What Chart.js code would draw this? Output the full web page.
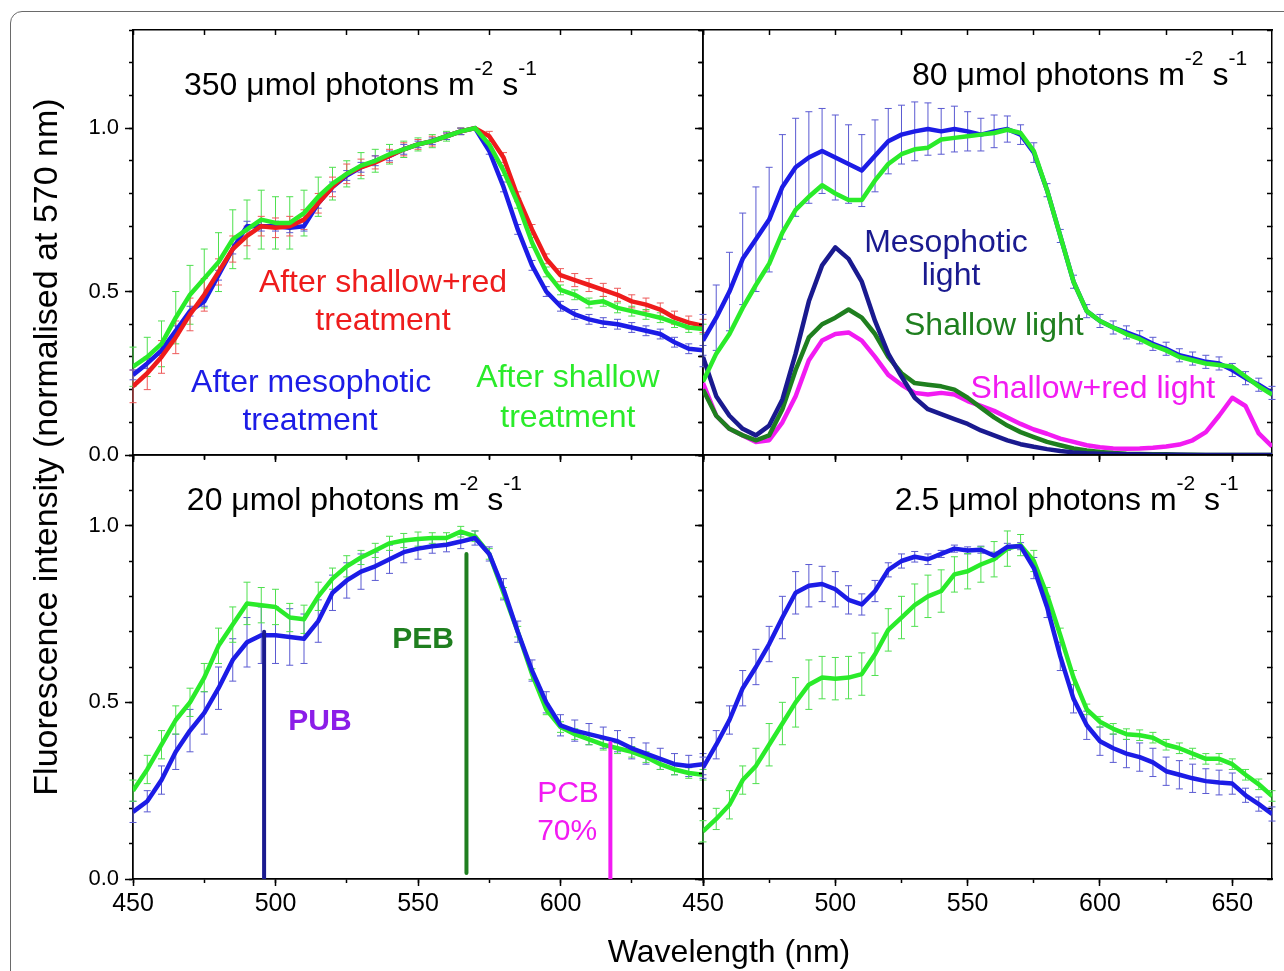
<!DOCTYPE html>
<html>
<head>
<meta charset="utf-8">
<script src="https://cdn.jsdelivr.net/npm/chart.js@4.4.0/dist/chart.umd.min.js"></script>
<style>
  body { margin: 0; background: #fff; }
  #wrap { position: relative; width: 1284px; height: 971px; overflow: hidden; background: #fff;
          font-family: "Liberation Sans", Arial, sans-serif; }
  #wrap canvas { position: absolute; left: 0; top: 0; }
  #outer { position: absolute; left: 10px; top: 11px; width: 1400px; height: 1100px;
           border: 1.5px solid #6a6a6a; border-radius: 12px; }
  #xtitle { position: absolute; left: 529px; top: 935px; width: 400px; text-align: center;
            font-size: 32px; line-height: 32px; color: #000; }
  #ytitle { position: absolute; left: -355px; top: 429px; width: 800px; height: 36px; text-align: center;
            font-size: 34px; line-height: 36px; color: #000; transform: rotate(-90deg); }
</style>
</head>
<body>
<div id="wrap">
  <div id="outer"></div>
  <canvas id="cTL" width="1284" height="971"></canvas>
  <canvas id="cTR" width="1284" height="971"></canvas>
  <canvas id="cBL" width="1284" height="971"></canvas>
  <canvas id="cBR" width="1284" height="971"></canvas>
  <div id="xtitle">Wavelength (nm)</div>
  <div id="ytitle">Fluorescence intensity (normalised at 570 nm)</div>
</div>
<script>
// wavelengths (nm)
var wlLeft = [450,455,460,465,470,475,480,485,490,495,500,505,510,515,520,525,530,535,540,545,
              550,555,560,565,570,575,580,585,590,595,600,605,610,615,620,625,630,635,640,645,650];
var wlRight = [450,455,460,465,470,475,480,485,490,495,500,505,510,515,520,525,530,535,540,545,
               550,555,560,565,570,575,580,585,590,595,600,605,610,615,620,625,630,635,640,645,650,655,660,665];

// 350 umol panel
var tlShallow = [0.27,0.30,0.34,0.42,0.49,0.54,0.59,0.66,0.69,0.72, 0.71,0.71,0.74,0.79,0.83,0.86,0.885,0.90,0.92,0.935,
                 0.95,0.96,0.975,0.99,1.00,0.95,0.87,0.77,0.65,0.56, 0.505,0.49,0.465,0.47,0.45,0.44,0.43,0.42,0.405,0.39, 0.385];
var tlShallowErr = [0.06,0.06,0.07,0.08,0.09,0.09,0.09,0.09,0.09,0.09, 0.08,0.08,0.07,0.06,0.05,0.04,0.04,0.035,0.03,0.025,
                    0.02,0.02,0.015,0.01,0,0.01,0.015,0.015,0.015,0.015, 0.015,0.015,0.015,0.015,0.015,0.015,0.015,0.015,0.015,0.015, 0.015];
var tlRed = [0.21,0.25,0.30,0.36,0.43,0.49,0.56,0.63,0.67,0.70, 0.695,0.70,0.72,0.77,0.82,0.86,0.88,0.895,0.915,0.935,
             0.95,0.96,0.975,0.99,1.00,0.975,0.91,0.79,0.69,0.60, 0.55,0.535,0.52,0.505,0.49,0.47,0.46,0.445,0.42,0.405, 0.395];
var tlRedErr = [0.05,0.05,0.05,0.05,0.05,0.05,0.04,0.04,0.03,0.03, 0.03,0.03,0.03,0.03,0.03,0.03,0.025,0.02,0.02,0.02,
                0.015,0.015,0.01,0.01,0,0.015,0.015,0.015,0.015,0.015, 0.02,0.02,0.02,0.02,0.02,0.02,0.02,0.02,0.02,0.02, 0.02];
var tlMeso = [0.245,0.28,0.32,0.38,0.44,0.47,0.55,0.63,0.70,0.70, 0.70,0.695,0.70,0.77,0.82,0.855,0.88,0.90,0.915,0.935,
              0.95,0.96,0.975,0.99,1.00,0.93,0.82,0.69,0.58,0.50, 0.455,0.43,0.415,0.405,0.40,0.39,0.38,0.37,0.345,0.325, 0.32];
var tlMesoErr = [0.015,0.015,0.015,0.015,0.015,0.015,0.015,0.015,0.015,0.015, 0.015,0.015,0.015,0.015,0.015,0.015,0.015,0.015,0.015,0.015,
                 0.01,0.01,0.01,0.01,0,0.01,0.015,0.015,0.015,0.015, 0.015,0.015,0.015,0.015,0.015,0.015,0.015,0.015,0.015,0.015, 0.015];

// 80 umol panel
var trMeso = [0.35,0.42,0.50,0.60,0.66,0.72,0.82,0.88,0.91,0.93, 0.91,0.89,0.87,0.915,0.96,0.98,0.99,0.997,0.99,0.997,
              0.99,0.98,0.99,0.997,0.98,0.925,0.81,0.67,0.53,0.44, 0.41,0.39,0.375,0.36,0.34,0.325,0.305,0.295,0.285,0.28,
              0.26,0.235,0.215,0.19];
var trMesoErr = [0.08,0.10,0.12,0.14,0.16,0.16,0.16,0.15,0.14,0.13, 0.13,0.12,0.11,0.11,0.10,0.09,0.09,0.08,0.07,0.07,
                 0.06,0.05,0.05,0.04,0.03,0.03,0.02,0.02,0.02,0.02, 0.02,0.02,0.02,0.02,0.02,0.02,0.02,0.02,0.02,0.02,
                 0.02,0.02,0.02,0.02];
var trShallow = [0.225,0.31,0.37,0.45,0.52,0.585,0.68,0.75,0.79,0.825, 0.80,0.78,0.78,0.84,0.89,0.92,0.935,0.94,0.965,0.97,
                 0.975,0.98,0.985,0.995,0.985,0.93,0.81,0.67,0.53,0.44, 0.41,0.39,0.37,0.355,0.335,0.32,0.30,0.29,0.28,0.275,
                 0.27,0.24,0.21,0.185];
var lightMeso = [0.30,0.18,0.12,0.08,0.06,0.09,0.17,0.31,0.47,0.58, 0.635,0.60,0.53,0.41,0.31,0.24,0.175,0.14,0.125,0.11,
                 0.095,0.075,0.06,0.045,0.033,0.025,0.018,0.012,0.008,0.005, 0.004,0.003,0.002,0.002,0.001,0.001,0.001,0,0,0,
                 0,0,0,0];
var lightShallow = [0.20,0.12,0.08,0.06,0.045,0.06,0.14,0.26,0.36,0.40, 0.42,0.445,0.42,0.37,0.30,0.25,0.22,0.215,0.21,0.20,
                    0.175,0.145,0.115,0.09,0.07,0.055,0.04,0.03,0.02,0.014, 0.009,0.006,0.004,0.003,0.002,0.002,0.001,0.001,0,0,
                    0,0,0,0];
var lightRed = [0.22,0.12,0.08,0.06,0.04,0.045,0.10,0.18,0.29,0.35, 0.37,0.375,0.35,0.30,0.245,0.215,0.19,0.185,0.19,0.185,
                0.165,0.15,0.135,0.115,0.095,0.078,0.065,0.05,0.04,0.03, 0.024,0.02,0.019,0.02,0.022,0.026,0.032,0.045,0.07,0.12,
                0.175,0.15,0.066,0.026];

// 20 umol panel
var blShallow = [0.25,0.31,0.38,0.45,0.50,0.57,0.66,0.72,0.78,0.775, 0.77,0.74,0.735,0.80,0.85,0.885,0.91,0.93,0.95,0.958,
                 0.962,0.965,0.965,0.983,0.97,0.92,0.81,0.70,0.58,0.48, 0.43,0.41,0.395,0.38,0.37,0.36,0.345,0.325,0.31,0.30, 0.295];
var blShallowErr = [0.03,0.04,0.04,0.04,0.04,0.04,0.05,0.05,0.06,0.05, 0.05,0.04,0.04,0.04,0.03,0.03,0.02,0.02,0.02,0.02,
                    0.02,0.015,0.015,0.015,0.015,0.015,0.015,0.015,0.015,0.015, 0.015,0.015,0.015,0.015,0.015,0.015,0.015,0.015,0.015,0.015, 0.015];
var blMeso = [0.19,0.22,0.28,0.36,0.42,0.47,0.54,0.62,0.67,0.69, 0.69,0.685,0.68,0.73,0.81,0.845,0.87,0.885,0.905,0.925,
              0.935,0.942,0.946,0.955,0.965,0.92,0.82,0.70,0.59,0.50, 0.435,0.42,0.41,0.40,0.39,0.37,0.355,0.34,0.325,0.32, 0.325];
var blMesoErr = [0.03,0.03,0.04,0.05,0.06,0.06,0.06,0.06,0.07,0.08, 0.08,0.08,0.07,0.06,0.05,0.05,0.05,0.04,0.04,0.03,
                 0.03,0.02,0.02,0.02,0.02,0.02,0.03,0.03,0.03,0.03, 0.03,0.03,0.03,0.03,0.03,0.03,0.03,0.03,0.03,0.03, 0.03];
// absorption maxima markers: PUB, PEB, PCB
var markerNm = [496, 567, 617.5];
var markerLow = [0, 0.017, 0];
var markerHigh = [0.70, 0.92, 0.385];
var markerColors = ['#1a1a8f', '#1f7f1f', '#f21bf2'];

// 2.5 umol panel
var brMeso = [0.315,0.38,0.45,0.54,0.60,0.665,0.74,0.81,0.83,0.835, 0.82,0.79,0.777,0.815,0.875,0.90,0.912,0.905,0.92,0.935,
              0.93,0.932,0.915,0.94,0.942,0.88,0.77,0.63,0.51,0.435, 0.39,0.37,0.355,0.345,0.33,0.305,0.295,0.285,0.277,0.273,
              0.27,0.237,0.212,0.184];
var brMesoErr = [0.03,0.04,0.04,0.05,0.05,0.05,0.06,0.06,0.06,0.05, 0.05,0.04,0.03,0.03,0.02,0.02,0.015,0.015,0.01,0.01,
                 0.01,0.01,0.01,0.01,0.01,0.03,0.03,0.04,0.04,0.04, 0.04,0.04,0.04,0.04,0.04,0.04,0.04,0.04,0.035,0.035,
                 0.03,0.02,0.02,0.02];
var brShallow = [0.135,0.17,0.21,0.28,0.32,0.38,0.44,0.50,0.55,0.57, 0.567,0.57,0.58,0.636,0.705,0.74,0.775,0.80,0.815,0.862,
                 0.871,0.89,0.905,0.935,0.945,0.90,0.805,0.69,0.57,0.48, 0.445,0.425,0.41,0.407,0.40,0.38,0.37,0.355,0.34,0.34,
                 0.325,0.295,0.268,0.235];
var brShallowErr = [0.03,0.03,0.04,0.04,0.05,0.06,0.06,0.07,0.07,0.06, 0.06,0.06,0.06,0.06,0.06,0.06,0.06,0.06,0.06,0.05,
                    0.05,0.05,0.05,0.05,0.03,0.03,0.02,0.02,0.02,0.015, 0.015,0.015,0.015,0.015,0.015,0.015,0.015,0.015,0.015,0.015,
                    0.015,0.015,0.015,0.015];

var FONT = '"Liberation Sans", Arial, sans-serif';
var W = 1284, H = 971;
var YLAB_W = 70, XLAB_H = 50; // room for tick labels
var GREEN = '#2aeb2a', BLUE = '#1c1ce6', RED = '#ee1c1c', NAVY = '#1a1a8f', DKGREEN = '#1f7f1f', MAGENTA = '#f21bf2';

Chart.defaults.font.family = FONT;
Chart.defaults.color = '#000';

function series(xs, ys, color, errs, errColor) {
  return {
    data: xs.map(function (x, i) { return { x: x, y: ys[i] }; }),
    borderColor: color, borderWidth: 4.5, pointRadius: 0, tension: 0, fill: false,
    borderJoinStyle: 'round', errors: errs, errorColor: errColor
  };
}

// error bars drawn with the chart's own scales
var errorBars = {
  id: 'errorBars',
  beforeDatasetsDraw: function (chart) {
    var c = chart.ctx, xs = chart.scales.x, ys = chart.scales.y;
    c.save();
    c.lineWidth = 1;
    chart.data.datasets.forEach(function (ds) {
      if (!ds.errors) return;
      c.strokeStyle = ds.errorColor;
      ds.data.forEach(function (p, j) {
        var e = ds.errors[j];
        if (!e) return;
        var px = xs.getPixelForValue(p.x);
        var top = ys.getPixelForValue(p.y + e), bot = ys.getPixelForValue(p.y - e);
        c.beginPath();
        c.moveTo(px, top); c.lineTo(px, bot);
        c.moveTo(px - 3.5, top); c.lineTo(px + 3.5, top);
        c.moveTo(px - 3.5, bot); c.lineTo(px + 3.5, bot);
        c.stroke();
      });
    });
    c.restore();
  }
};

function textPlugin(items) {
  return {
    id: 'panelText',
    afterDatasetsDraw: function (chart) {
      var c = chart.ctx, xs = chart.scales.x, ys = chart.scales.y;
      c.save();
      c.textBaseline = 'alphabetic';
      items.forEach(function (it) {
        var px = xs.getPixelForValue(it.x), py = ys.getPixelForValue(it.y);
        c.fillStyle = it.color || '#000';
        if (it.parts) {
          var x0 = px;
          c.textAlign = 'left';
          it.parts.forEach(function (p) {
            c.font = (p.sup ? '21px ' : '32px ') + FONT;
            c.fillText(p.t, x0, p.sup ? py - 20 : py);
            x0 += c.measureText(p.t).width;
          });
        } else {
          c.font = (it.bold ? 'bold ' : '') + (it.size || 32) + 'px ' + FONT;
          c.textAlign = it.align || 'center';
          c.fillText(it.text, px, py);
        }
      });
      c.restore();
    }
  };
}

function title(lead) {
  return [{ t: lead + ' \u03bcmol photons m' }, { t: '-2', sup: true }, { t: ' s' }, { t: '-1', sup: true }];
}

function fixH(h) { return function (s) { s.height = h; }; }
function fixW(w) { return function (s) { s.width = w; }; }

function ticksOnly(len) {
  return { drawOnChartArea: false, drawTicks: true, tickLength: len, tickColor: '#000', tickWidth: 1.5 };
}

function makeScales(xMax, yMax, showX, showY, xLabelMax) {
  var frame = { display: true, color: '#000', width: 1.5 };
  return {
    x: { type: 'linear', position: 'bottom', weight: 1, min: 450, max: xMax, afterFit: fixH(showX ? XLAB_H : 0),
         grid: ticksOnly(7), border: frame,
         ticks: { stepSize: 50, includeBounds: false, display: showX, padding: 3, autoSkip: false, maxRotation: 0,
                  font: { size: 25 }, callback: function (v) { return v < xLabelMax ? String(v) : ''; } } },
    xm: { type: 'linear', position: 'bottom', weight: 0, min: 450, max: xMax, afterFit: fixH(0), grid: ticksOnly(4), border: frame,
          ticks: { stepSize: 25, includeBounds: false, display: false } },
    xt: { type: 'linear', position: 'top', min: 450, max: xMax, afterFit: fixH(0), grid: ticksOnly(-5), border: frame,
          ticks: { stepSize: 25, includeBounds: false, display: false } },
    y: { type: 'linear', position: 'left', weight: 1, min: 0, max: yMax, afterFit: fixW(showY ? YLAB_W : 0),
         grid: ticksOnly(8), border: frame,
         ticks: { stepSize: 0.5, includeBounds: false, display: showY, padding: 6, font: { size: 22 },
                  callback: function (v) { return v.toFixed(1); } } },
    ym: { type: 'linear', position: 'left', weight: 0, min: 0, max: yMax, afterFit: fixW(0), grid: ticksOnly(4), border: frame,
          ticks: { stepSize: 0.1, includeBounds: false, display: false } },
    yr: { type: 'linear', position: 'right', min: 0, max: yMax, afterFit: fixW(0), grid: ticksOnly(-5), border: frame,
          ticks: { stepSize: 0.1, includeBounds: false, display: false } }
  };
}

function panel(id, area, xMax, yMax, showX, showY, xLabelMax, datasets, texts) {
  var padLeft = area[0] - (showY ? YLAB_W : 0);
  var padBottom = H - area[3] - (showX ? XLAB_H : 0);
  return new Chart(document.getElementById(id), {
    type: 'line',
    data: { datasets: datasets },
    options: {
      responsive: false,
      animation: false,
      layout: { autoPadding: false,
                padding: { left: padLeft, top: area[1], right: W - area[2], bottom: padBottom } },
      plugins: { legend: { display: false }, tooltip: { enabled: false } },
      scales: makeScales(xMax, yMax, showX, showY, xLabelMax)
    },
    plugins: [errorBars, textPlugin(texts)]
  });
}

// top left: 350
panel('cTL', [133, 30, 703, 455], 650, 1.3, false, true, 650, [
  series(wlLeft, tlShallow, GREEN, tlShallowErr, '#4fe04f'),
  series(wlLeft, tlRed, RED, tlRedErr, '#ee5a5a'),
  series(wlLeft, tlMeso, BLUE, tlMesoErr, '#5a5ad2')
], [
  { x: 467.9, y: 1.101, parts: title('350') },
  { text: 'After shallow+red', x: 537.7, y: 0.499, color: RED },
  { text: 'treatment', x: 537.7, y: 0.382, color: RED },
  { text: 'After mesophotic', x: 512.5, y: 0.193, color: BLUE },
  { text: 'treatment', x: 512.1, y: 0.076, color: BLUE },
  { text: 'After shallow', x: 602.6, y: 0.208, color: GREEN },
  { text: 'treatment', x: 602.6, y: 0.086, color: GREEN }
]);

// top right: 80
panel('cTR', [703, 30, 1272, 455], 665, 1.3, false, false, 700, [
  series(wlRight, trShallow, GREEN),
  series(wlRight, trMeso, BLUE, trMesoErr, '#5a5ad2'),
  series(wlRight, lightMeso, NAVY),
  series(wlRight, lightShallow, DKGREEN),
  series(wlRight, lightRed, MAGENTA)
], [
  { x: 529.0, y: 1.132, parts: title('80') },
  { text: 'Mesophotic', x: 541.8, y: 0.621, color: NAVY },
  { text: 'light', x: 543.7, y: 0.52, color: NAVY },
  { text: 'Shallow light', x: 559.9, y: 0.367, color: DKGREEN },
  { text: 'Shallow+red light', x: 597.3, y: 0.174, color: MAGENTA }
]);

// bottom left: 20
var markers = markerNm.map(function (nm, i) {
  return {
    data: [{ x: nm, y: markerLow[i] }, { x: nm, y: markerHigh[i] }],
    borderColor: markerColors[i], borderWidth: 4, pointRadius: 0, borderCapStyle: 'round'
  };
});
panel('cBL', [133, 455, 703, 879], 650, 1.2, true, true, 650, markers.concat([
  series(wlLeft, blMeso, BLUE, blMesoErr, '#5a5ad2'),
  series(wlLeft, blShallow, GREEN, blShallowErr, '#4fe04f')
]), [
  { x: 468.9, y: 1.044, parts: title('20') },
  { text: 'PUB', x: 515.6, y: 0.422, color: '#8b1de8', bold: true, size: 30 },
  { text: 'PEB', x: 551.8, y: 0.654, color: DKGREEN, bold: true, size: 30 },
  { text: 'PCB', x: 591.8, y: 0.218, color: MAGENTA, size: 30, align: 'left' },
  { text: '70%', x: 591.8, y: 0.110, color: MAGENTA, size: 30, align: 'left' }
]);

// bottom right: 2.5
panel('cBR', [703, 455, 1272, 879], 665, 1.2, true, false, 700, [
  series(wlRight, brMeso, BLUE, brMesoErr, '#5a5ad2'),
  series(wlRight, brShallow, GREEN, brShallowErr, '#4fe04f')
], [
  { x: 522.5, y: 1.044, parts: title('2.5') }
]);
</script>
</body>
</html>
